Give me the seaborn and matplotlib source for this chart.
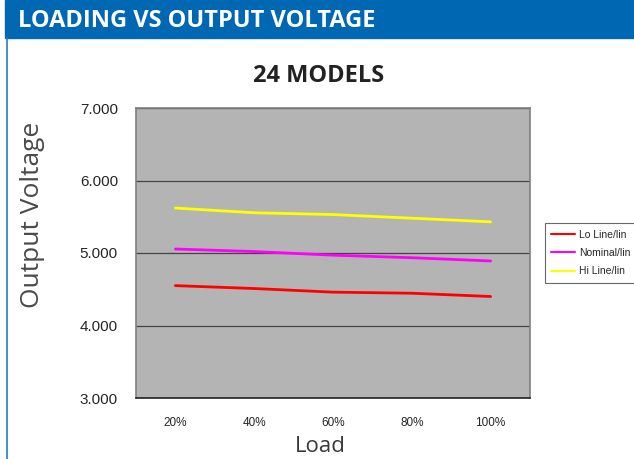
import matplotlib
matplotlib.use("Agg")
import matplotlib.pyplot as plt
import pandas as pd
import seaborn as sns
from matplotlib.patches import Rectangle
from matplotlib.lines import Line2D

# ── Data ──────────────────────────────────────────────────────────────────────
loads = ["20%", "40%", "60%", "80%", "100%"]
lo_line = [4.55, 4.51, 4.46, 4.445, 4.40]
nominal = [5.055, 5.02, 4.97, 4.935, 4.89]
hi_line = [5.62, 5.555, 5.53, 5.48, 5.43]
series_names = ["Lo Line/lin", "Nominal/lin", "Hi Line/lin"]
yticks = [3.0, 4.0, 5.0, 6.0, 7.0]

palette = {"Lo Line/lin": "#ff0000", "Nominal/lin": "#ff00ff", "Hi Line/lin": "#ffff00"}

df = pd.DataFrame({
    "load": loads * 3,
    "voltage": lo_line + nominal + hi_line,
    "series": [s for s in series_names for _ in loads],
})

sns.set_style("white")
plt.rcParams["font.family"] = ["Liberation Sans", "DejaVu Sans"]

fig = plt.figure(figsize=(6.34, 4.59), dpi=100)

# ── Header bar ────────────────────────────────────────────────────────────────
fig.patches.append(Rectangle((5 / 634, 1 - 38 / 459), 1, 38 / 459,
                             transform=fig.transFigure, color="#0067b2", zorder=0))
fig.lines.append(Line2D([6.5 / 634, 6.5 / 634], [0, 1 - 38 / 459],
                        transform=fig.transFigure, color="#2a7cc0", lw=1.2))
fig.text(18 / 634, 1 - 21 / 459, "LOADING VS OUTPUT VOLTAGE", color="white",
         fontsize=17, fontweight="bold", family="Open Sans",
         va="center", ha="left")

# ── Chart ─────────────────────────────────────────────────────────────────────
ax = fig.add_axes([136 / 634, 1 - 398 / 459, 394 / 634, 290 / 459])
ax.set_facecolor("#b4b4b4")
sns.lineplot(data=df, x="load", y="voltage", hue="series", palette=palette,
             linewidth=2, ax=ax, sort=False)

ax.set_xlim(-0.5, 4.5)
ax.set_ylim(3, 7)
ax.set_yticks(yticks)
ax.set_yticklabels([f"{v:.3f}" for v in yticks], fontsize=11)
ax.set_xticks(range(len(loads)))
ax.set_xticklabels(loads, fontsize=8.5)
ax.set_xticks([i + 0.5 for i in range(-1, len(loads))], minor=True)
ax.tick_params(axis="x", which="major", length=0, pad=14)
ax.tick_params(axis="x", which="minor", length=5, direction="in", color="#333333")
ax.tick_params(axis="y", length=0, pad=13)
ax.grid(axis="y", color="#444444", linewidth=0.9)
ax.set_axisbelow(True)

for side in ["top", "right", "left"]:
    ax.spines[side].set_color("#808080")
    ax.spines[side].set_linewidth(1.2)
ax.spines["bottom"].set_color("#222222")
ax.spines["bottom"].set_linewidth(1.2)

ax.set_xlabel("")
ax.set_ylabel("")
fig.text(320 / 634, 1 - 446 / 459, "Load", fontsize=16, family="Open Sans",
         color="#3a3a3a", ha="center", va="center")
fig.text(33 / 634, 1 - 215 / 459, "Output Voltage", fontsize=19, family="Open Sans",
         color="#4a4a4a", ha="center", va="center", rotation=90)
fig.text(319 / 634, 1 - 76 / 459, "24 MODELS", fontsize=17, fontweight="bold",
         family="Open Sans", color="#222222", ha="center", va="center")

leg = ax.legend(loc="center left", bbox_to_anchor=(1.025, 0.5), frameon=True,
                fontsize=7.5, handlelength=2.3, handletextpad=0.4,
                borderpad=0.6, labelspacing=0.8, fancybox=False)
leg.get_frame().set_edgecolor("#444444")
leg.get_frame().set_linewidth(0.8)
for h in leg.get_lines():
    h.set_linewidth(1.5)

fig.savefig("out.png", dpi=100)
